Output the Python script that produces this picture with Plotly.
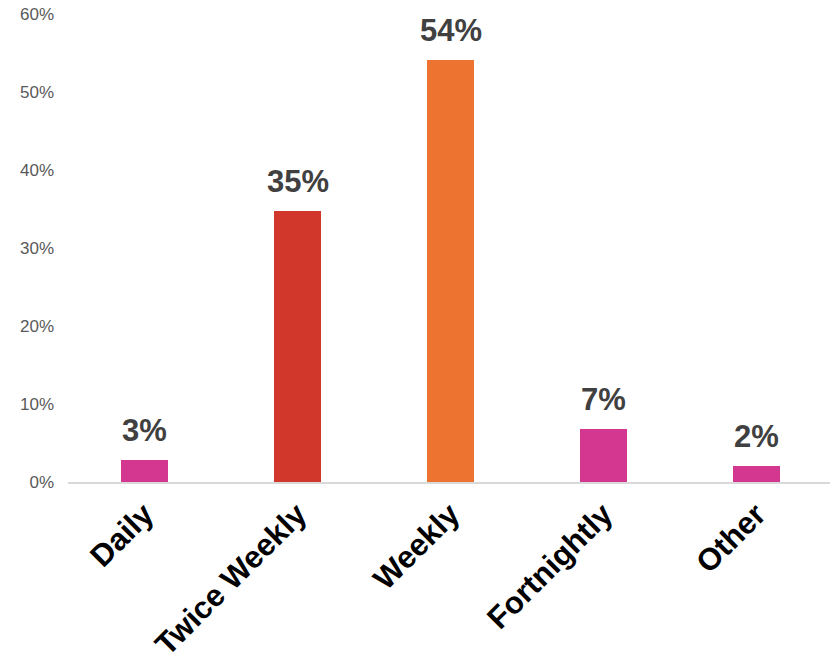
import plotly.graph_objects as go

# Frequency categories and their share of respondents (%)
categories = ["Daily", "Twice Weekly", "Weekly", "Fortnightly", "Other"]
shares = [2.8, 34.7, 54.1, 6.8, 2.1]
bar_colors = ["#D4378F", "#D1372B", "#ED7330", "#D4378F", "#D4378F"]
y_ticks = [0, 10, 20, 30, 40, 50, 60]
y_tick_labels = [f"{v}%" for v in y_ticks]

FONT = "Arial, 'Liberation Sans', sans-serif"

fig = go.Figure(
    go.Bar(
        x=categories,
        y=shares,
        marker=dict(color=bar_colors, line=dict(width=0)),
        width=0.31,
        hoverinfo="skip",
    )
)

# Value labels above each bar
for cat, val in zip(categories, shares):
    fig.add_annotation(
        x=cat,
        y=val,
        text=f"<b>{round(val)}%</b>",
        showarrow=False,
        yanchor="bottom",
        yshift=10,
        font=dict(family=FONT, size=31, color="#404040"),
    )

fig.update_layout(
    width=830,
    height=664,
    margin=dict(l=68, r=0, t=14, b=182, autoexpand=False),
    paper_bgcolor="white",
    plot_bgcolor="white",
    showlegend=False,
    bargap=0,
)

fig.update_xaxes(
    range=[-0.5, 4.48],
    automargin=False,
    showline=True,
    linecolor="#D9D9D9",
    linewidth=1.5,
    showgrid=False,
    ticks="",
    tickangle=-45,
    ticklabelstandoff=0,
    tickfont=dict(family=FONT, size=31, color="#000000", weight="bold"),
)

fig.update_yaxes(
    range=[0, 60],
    automargin=False,
    tickvals=y_ticks,
    ticktext=y_tick_labels,
    showgrid=False,
    zeroline=False,
    showline=False,
    ticks="",
    ticklabelstandoff=13,
    tickfont=dict(family=FONT, size=17, color="#595959"),
)

fig.write_html("out.html")
